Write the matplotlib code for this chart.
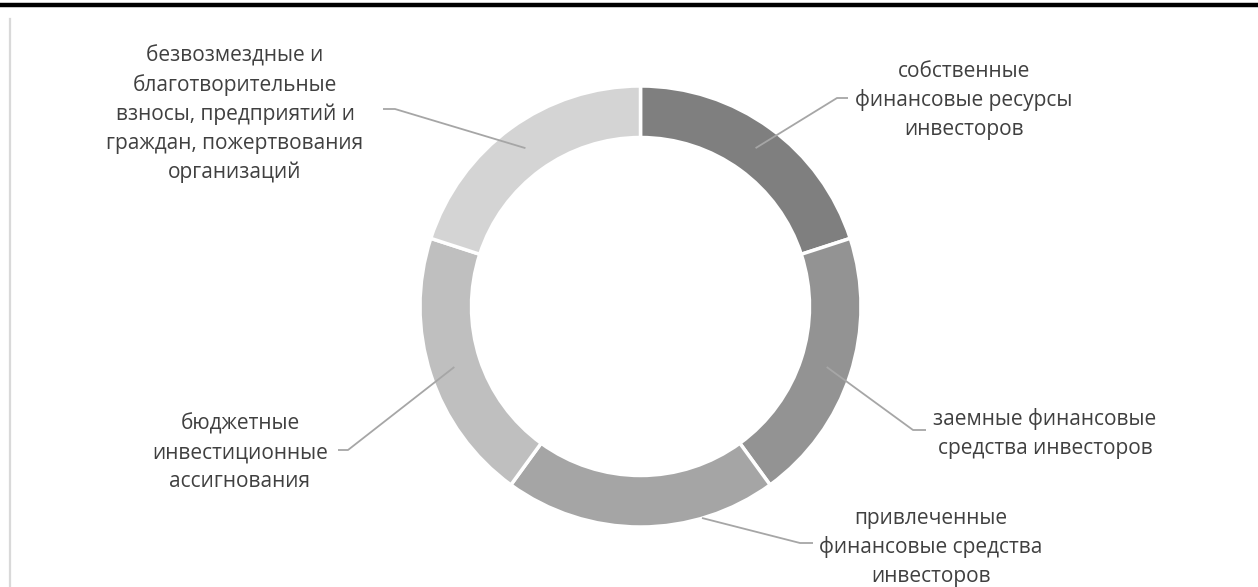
import numpy as np
import matplotlib
matplotlib.use("Agg")
import matplotlib.pyplot as plt
from matplotlib.lines import Line2D

# ---- data ----
labels = [
    "собственные\nфинансовые ресурсы\nинвесторов",
    "заемные финансовые\nсредства инвесторов",
    "привлеченные\nфинансовые средства\nинвесторов",
    "бюджетные\nинвестиционные\nассигнования",
    "безвозмездные и\nблаготворительные\nвзносы, предприятий и\nграждан, пожертвования\nорганизаций",
]
values = [20, 20, 20, 20, 20]
colors = ["#7f7f7f", "#939393", "#a5a5a5", "#bfbfbf", "#d4d4d4"]

# ---- layout (pixel space) ----
W, H = 1258, 587
fig = plt.figure(figsize=(W / 100, H / 100), dpi=100)
ax = fig.add_axes([0, 0, 1, 1])
ax.set_xlim(0, W)
ax.set_ylim(0, H)
ax.set_aspect("equal")
ax.axis("off")

cx, cy_px = 640.5, 306.5
cy = H - cy_px
R = 220.5
ring = 51.5

wedges, _ = ax.pie(values, colors=colors, startangle=90, counterclock=False,
                   radius=R, center=(cx, cy),
                   wedgeprops=dict(width=ring, edgecolor="white", linewidth=2.5))
ax.set_xlim(0, W)
ax.set_ylim(0, H)

# label placement: (text center x, first-line x-height centre y (px from top),
#                   elbow x, elbow y, end x, anchor override)
label_pos = [
    (964, 71.5, 837, 98, 848, None),
    (1045, 419, 913, 430, 926, None),
    (931, 518.5, 800, 543, 813, (702, 518)),
    (240, 423.5, 348, 450, 338, None),
    (235, 56, 395, 109, 383, None),
]
line_step = 29.0
fs = 15.0
xh = 0.535 * fs * 100 / 72  # x-height in px for Open Sans

font = ["Open Sans", "DejaVu Sans"]
for w, lab, (tx, ty, ex, ey, endx, anc) in zip(wedges, labels, label_pos):
    if anc is None:
        ang = np.deg2rad((w.theta1 + w.theta2) / 2)
        r0 = R - ring / 2 + 1
        ax0, ay0 = cx + r0 * np.cos(ang), cy + r0 * np.sin(ang)
    else:
        ax0, ay0 = anc[0], H - anc[1]
    ax.plot([ax0, ex, endx], [ay0, H - ey, H - ey], color="#a6a6a6", lw=1.3,
            solid_capstyle="butt", zorder=3)
    for i, line in enumerate(lab.split("\n")):
        base = ty + i * line_step + xh / 2
        ax.text(tx, H - base, line, ha="center", va="baseline", fontsize=fs,
                color="#404040", family=font)

# frame lines
fig.add_artist(Line2D([0, 1], [1 - 5 / H, 1 - 5 / H], transform=fig.transFigure,
                      color="black", lw=3.2))
fig.add_artist(Line2D([10 / W, 10 / W], [0, 1 - 19 / H], transform=fig.transFigure,
                      color="#d9d9d9", lw=1.6))

fig.savefig("out.png", dpi=100, facecolor="white")
